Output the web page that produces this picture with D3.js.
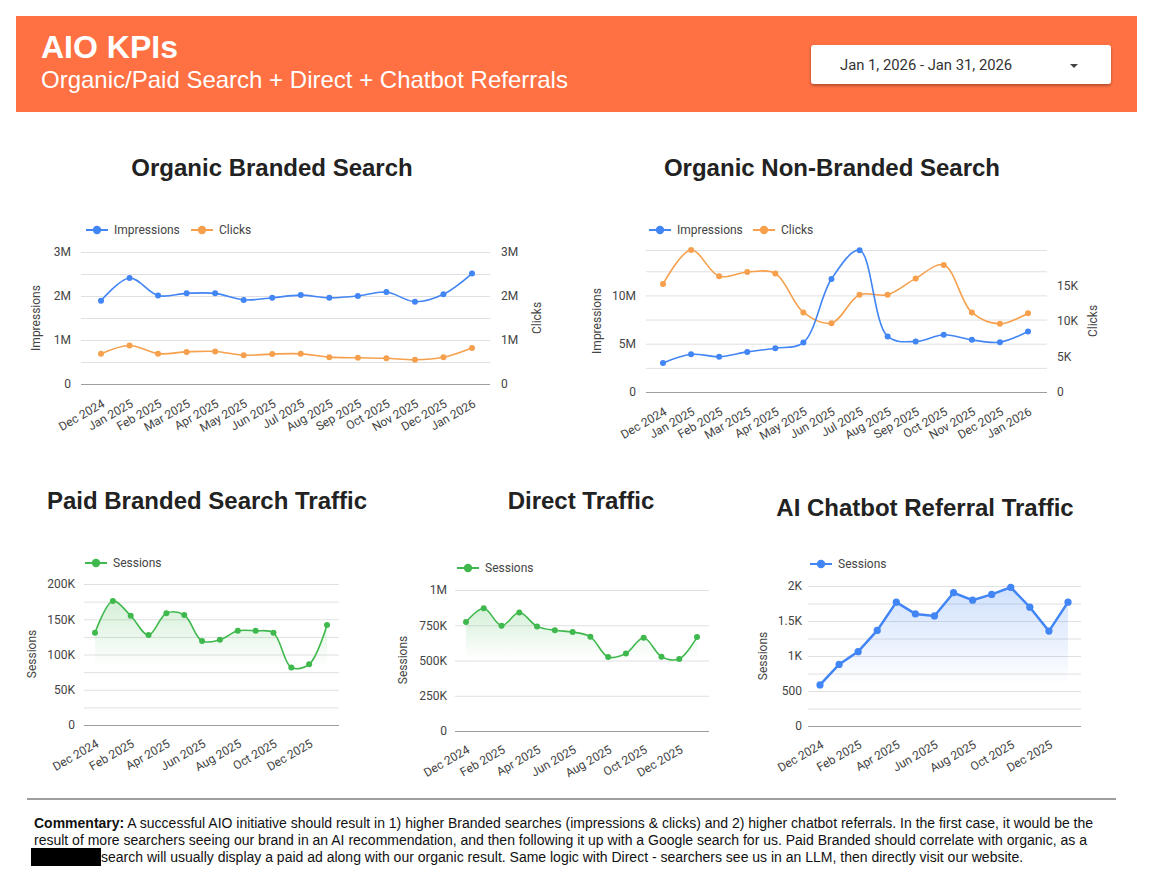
<!DOCTYPE html>
<html>
<head>
<meta charset="utf-8">
<script src="https://cdn.jsdelivr.net/npm/d3@7"></script>
<style>
  html, body { margin: 0; padding: 0; background: #fff; }
  svg { display: block; }
</style>
</head>
<body>
<svg id="chart" width="1162" height="878"></svg>
<script>
// ---------------- DATA ----------------
const months = ["Dec 2024","Jan 2025","Feb 2025","Mar 2025","Apr 2025","May 2025","Jun 2025",
                "Jul 2025","Aug 2025","Sep 2025","Oct 2025","Nov 2025","Dec 2025","Jan 2026"];
const bottomTickLabels = ["Dec 2024","Feb 2025","Apr 2025","Jun 2025","Aug 2025","Oct 2025","Dec 2025"];

const brandedImpressions = [1.89e6,2.41e6,2.01e6,2.06e6,2.06e6,1.91e6,1.96e6,2.02e6,1.96e6,2.00e6,2.09e6,1.87e6,2.04e6,2.51e6];
const brandedClicks      = [0.685e6,0.876e6,0.69e6,0.73e6,0.74e6,0.655e6,0.68e6,0.685e6,0.61e6,0.595e6,0.585e6,0.55e6,0.61e6,0.82e6];

const nonBrandedImpressions = [3.0e6,3.9e6,3.66e6,4.15e6,4.53e6,5.12e6,11.7e6,14.67e6,5.75e6,5.23e6,5.92e6,5.4e6,5.16e6,6.27e6];
const nonBrandedClicks      = [15200,20000,16300,16900,16700,11200,9700,13700,13700,16000,17900,11200,9600,11100];

const paidSessions    = [130800,176000,155000,127500,158500,156000,119000,121000,133600,133600,130800,81600,86000,141800];
const directSessions  = [773000,871000,747000,840000,742000,714000,702000,668000,525000,549000,661000,527000,511000,666000];
const chatbotSessions = [587,880,1062,1365,1769,1601,1572,1904,1798,1880,1981,1697,1356,1769];

const brandedTicks        = [0,1e6,2e6,3e6];
const nonBrandedImpTicks  = [0,5e6,10e6];
const nonBrandedClickTicks= [0,5000,10000,15000];
const paidTicks           = [0,50000,100000,150000,200000];
const directTicks         = [0,250000,500000,750000,1000000];
const chatbotTicks        = [0,500,1000,1500,2000];

const commentaryLines = [
  "A successful AIO initiative should result in 1) higher Branded searches (impressions & clicks) and 2) higher chatbot referrals. In the first case, it would be the",
  "result of more searchers seeing our brand in an AI recommendation, and then following it up with a Google search for us. Paid Branded should correlate with organic, as a",
  "search will usually display a paid ad along with our organic result. Same logic with Direct - searchers see us in an LLM, then directly visit our website."
];

// ---------------- STYLE ----------------
const BLUE = "#4285f4", ORANGE = "#f6a04d", GREEN = "#3fb94d";
const FONT = "Roboto, Arial, sans-serif";
const HF = "Arial, 'Liberation Sans', sans-serif";
const TXT = "#444";

const svg = d3.select("#chart");
const defs = svg.append("defs");

function fmt(v){
  if (v === 0) return "0";
  if (v >= 1e6) return (v/1e6) + "M";
  if (v >= 1e3) return (v/1e3) + "K";
  return String(v);
}

// ---------------- HEADER ----------------
svg.append("rect").attr("x",16).attr("y",16).attr("width",1121).attr("height",96).attr("fill","#ff7043");
svg.append("text").attr("x",41).attr("y",58).attr("fill","#fff")
  .attr("font-family",HF).attr("font-weight","bold").attr("font-size",32)
  .text("AIO KPIs");
svg.append("text").attr("x",41).attr("y",88).attr("fill","#fff")
  .attr("font-family",HF).attr("font-size",24)
  .text("Organic/Paid Search + Direct + Chatbot Referrals");

const shadow = defs.append("filter").attr("id","sh").attr("x","-10%").attr("y","-30%").attr("width","120%").attr("height","170%");
shadow.append("feDropShadow").attr("dx",0).attr("dy",1.5).attr("stdDeviation",1.5).attr("flood-color","#000").attr("flood-opacity",0.35);
svg.append("rect").attr("x",811).attr("y",45).attr("width",300).attr("height",39).attr("rx",3)
  .attr("fill","#fff").attr("filter","url(#sh)");
svg.append("text").attr("x",840).attr("y",70).attr("fill","#333").attr("font-family",FONT).attr("font-size",14.8)
  .text("Jan 1, 2026 - Jan 31, 2026");
svg.append("path").attr("d","M1070,64 L1078,64 L1074,68 Z").attr("fill","#444");

// ---------------- CHART HELPERS ----------------
function title(txt, cx, y){
  svg.append("text").attr("x",cx).attr("y",y).attr("text-anchor","middle")
    .attr("font-family",HF).attr("font-weight","bold").attr("font-size",24)
    .attr("fill","#222").text(txt);
}

function legend(items, y){
  items.forEach(it => {
    svg.append("line").attr("x1",it.x).attr("x2",it.x+22).attr("y1",y).attr("y2",y)
      .attr("stroke",it.color).attr("stroke-width",2);
    svg.append("circle").attr("cx",it.x+11).attr("cy",y).attr("r",4.2).attr("fill",it.color);
    svg.append("text").attr("x",it.x+28).attr("y",y+4).attr("font-family",FONT).attr("font-size",12)
      .attr("fill",TXT).text(it.label);
  });
}

function axisTitle(txt, x, y){
  svg.append("text").attr("transform",`translate(${x},${y}) rotate(-90)`).attr("text-anchor","middle")
    .attr("font-family",FONT).attr("font-size",12).attr("fill",TXT).text(txt);
}

function grid(y, x0, x1, values){
  const g = svg.append("g").attr("transform",`translate(${x0},0)`)
    .call(d3.axisLeft(y).tickValues(values).tickSize(-(x1-x0)).tickFormat(""));
  g.select(".domain").remove();
  g.selectAll(".tick line").attr("stroke","#e0e0e0").attr("stroke-width",1);
  g.selectAll(".tick").filter(d => d === 0).select("line").attr("stroke","#9e9e9e");
}

function yLabels(y, x, ticks, side){
  const ax = side === "left" ? d3.axisLeft(y) : d3.axisRight(y);
  const g = svg.append("g").attr("transform",`translate(${x},0)`)
    .call(ax.tickValues(ticks).tickSize(0).tickPadding(0).tickFormat(fmt));
  g.select(".domain").remove();
  g.selectAll("text").attr("font-family",FONT).attr("font-size",12).attr("fill",TXT);
}

function xLabels(x, y0, labels, dy){
  const g = svg.append("g").attr("transform",`translate(0,${y0})`)
    .call(d3.axisBottom(x).tickValues(labels).tickSize(0));
  g.select(".domain").remove();
  g.selectAll("text").attr("y",0).attr("dy",0).attr("text-anchor","end")
    .attr("transform",`translate(4,${dy}) rotate(-30)`)
    .attr("font-family",FONT).attr("font-size",12).attr("fill",TXT);
}

function series(x, y, values, color, opts){
  const pts = months.map((m,i) => ({m, v: values[i]}));
  const curve = opts.linear ? d3.curveLinear : d3.curveCatmullRom.alpha(0.5);
  if (opts.area){
    const id = "grad" + Math.random().toString(36).slice(2,8);
    const gr = defs.append("linearGradient").attr("id",id).attr("gradientUnits","userSpaceOnUse")
      .attr("x1",0).attr("x2",0).attr("y1",y(d3.max(values))).attr("y2",y(d3.min(values)));
    gr.append("stop").attr("offset",0).attr("stop-color",color).attr("stop-opacity",opts.areaOpacity);
    gr.append("stop").attr("offset",1).attr("stop-color",color).attr("stop-opacity",0);
    svg.append("path").datum(pts)
      .attr("d", d3.area().x(d => x(d.m)).y0(y(0)).y1(d => y(d.v)).curve(curve))
      .attr("fill",`url(#${id})`);
  }
  svg.append("path").datum(pts)
    .attr("d", d3.line().x(d => x(d.m)).y(d => y(d.v)).curve(curve))
    .attr("fill","none").attr("stroke",color).attr("stroke-width",opts.width || 1.6);
  svg.append("g").selectAll("circle").data(pts).join("circle")
    .attr("cx", d => x(d.m)).attr("cy", d => y(d.v)).attr("r", opts.r || 3).attr("fill",color);
}

// ---------------- CHART 1: Organic Branded Search ----------------
{
  title("Organic Branded Search", 272, 176);
  legend([{x:86,label:"Impressions",color:BLUE},{x:191,label:"Clicks",color:ORANGE}], 230);
  const x = d3.scalePoint().domain(months).range([101,472]);
  const yL = d3.scaleLinear().domain([0,3e6]).range([384,252]);
  const yR = d3.scaleLinear().domain([0,3e6]).range([384,252]);
  grid(yL, 81, 490, d3.range(0, 3e6+1, 0.5e6));
  yLabels(yL, 71, brandedTicks, "left");
  yLabels(yR, 501, brandedTicks, "right");
  axisTitle("Impressions", 40, 318);
  axisTitle("Clicks", 541, 318);
  xLabels(x, 384, months, 22);
  series(x, yR, brandedClicks, ORANGE, {});
  series(x, yL, brandedImpressions, BLUE, {});
}

// ---------------- CHART 2: Organic Non-Branded Search ----------------
{
  title("Organic Non-Branded Search", 832, 176);
  legend([{x:649,label:"Impressions",color:BLUE},{x:753,label:"Clicks",color:ORANGE}], 230);
  const x = d3.scalePoint().domain(months).range([663,1028]);
  const yL = d3.scaleLinear().domain([0,14.7e6]).range([392,250]);
  const yR = d3.scaleLinear().domain([0,20000]).range([392,250]);
  grid(yL, 646, 1047, d3.range(0, 12.5e6+1, 2.5e6).concat([14.7e6]));
  yLabels(yL, 636, nonBrandedImpTicks, "left");
  yLabels(yR, 1057, nonBrandedClickTicks, "right");
  axisTitle("Impressions", 601, 321);
  axisTitle("Clicks", 1097, 321);
  xLabels(x, 392, months, 22);
  series(x, yR, nonBrandedClicks, ORANGE, {});
  series(x, yL, nonBrandedImpressions, BLUE, {});
}

// ---------------- CHART 3: Paid Branded Search Traffic ----------------
{
  title("Paid Branded Search Traffic", 207, 509);
  legend([{x:85,label:"Sessions",color:GREEN}], 563);
  const x = d3.scalePoint().domain(months).range([95,327]);
  const y = d3.scaleLinear().domain([0,200000]).range([725,584]);
  grid(y, 84, 339, d3.range(0, 200001, 25000));
  yLabels(y, 75, paidTicks, "left");
  axisTitle("Sessions", 36, 654);
  xLabels(x, 725, bottomTickLabels, 21);
  series(x, y, paidSessions, GREEN, {area:true, areaOpacity:0.22});
}

// ---------------- CHART 4: Direct Traffic ----------------
{
  title("Direct Traffic", 581, 509);
  legend([{x:457,label:"Sessions",color:GREEN}], 568);
  const x = d3.scalePoint().domain(months).range([466,697]);
  const y = d3.scaleLinear().domain([0,1000000]).range([731,590]);
  grid(y, 455, 709, d3.range(0, 1000001, 250000));
  yLabels(y, 447, directTicks, "left");
  axisTitle("Sessions", 407, 660);
  xLabels(x, 731, bottomTickLabels, 21);
  series(x, y, directSessions, GREEN, {area:true, areaOpacity:0.22});
}

// ---------------- CHART 5: AI Chatbot Referral Traffic ----------------
{
  title("AI Chatbot Referral Traffic", 925, 516);
  legend([{x:810,label:"Sessions",color:BLUE}], 564);
  const x = d3.scalePoint().domain(months).range([820,1068]);
  const y = d3.scaleLinear().domain([0,2000]).range([726,586]);
  grid(y, 808, 1081, d3.range(0, 2001, 250));
  yLabels(y, 802, chatbotTicks, "left");
  axisTitle("Sessions", 767, 656);
  xLabels(x, 726, bottomTickLabels, 21);
  series(x, y, chatbotSessions, BLUE, {linear:true, area:true, areaOpacity:0.25, width:2.5, r:3.6});
}

// ---------------- COMMENTARY ----------------
svg.append("line").attr("x1",27).attr("x2",1116).attr("y1",799).attr("y2",799)
  .attr("stroke","#9e9e9e").attr("stroke-width",2);
const t1 = svg.append("text").attr("x",34).attr("y",828).attr("font-family",HF).attr("font-size",14).attr("fill","#111");
t1.append("tspan").attr("font-weight","bold").text("Commentary:");
t1.append("tspan").text(" " + commentaryLines[0]);
svg.append("text").attr("x",34).attr("y",845).attr("font-family",HF).attr("font-size",14).attr("fill","#111")
  .text(commentaryLines[1]);
svg.append("rect").attr("x",31).attr("y",848).attr("width",70).attr("height",18).attr("fill","#000");
svg.append("text").attr("x",101).attr("y",862).attr("font-family",HF).attr("font-size",14).attr("fill","#111")
  .text(commentaryLines[2]);
</script>
</body>
</html>
